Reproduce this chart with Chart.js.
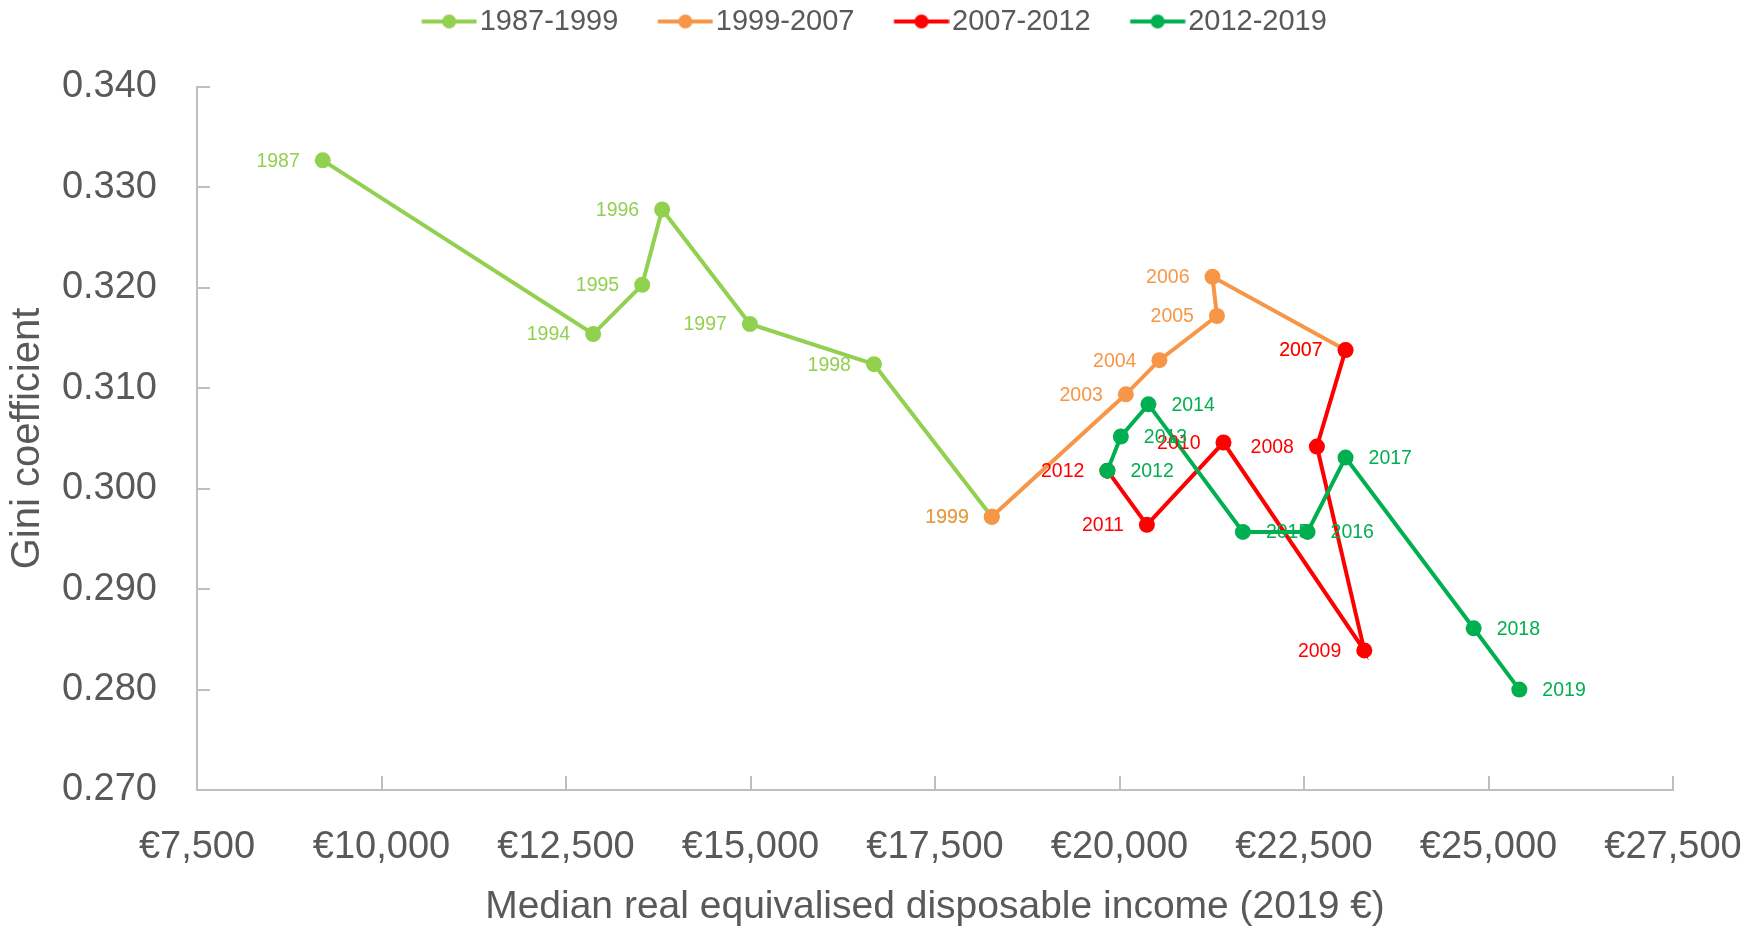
<!DOCTYPE html>
<html>
<head>
<meta charset="utf-8">
<script src="https://cdn.jsdelivr.net/npm/chart.js@4.4.1/dist/chart.umd.min.js"></script>
<style>
  html, body { margin: 0; padding: 0; background: #fff; }
  canvas { display: block; }
</style>
</head>
<body>
<canvas id="giniChart" width="1759" height="927" style="width:1759px;height:927px"></canvas>
<script>
// data
const seriesNames = ["1987-1999", "1999-2007", "2007-2012", "2012-2019"];

const years1 = [1987, 1994, 1995, 1996, 1997, 1998, 1999];
const income1 = [9204, 12868, 13532, 13803, 14992, 16673, 18269];
const gini1 = [0.3327, 0.3154, 0.3203, 0.3278, 0.3164, 0.3124, 0.2972];

const years2 = [1999, 2003, 2004, 2005, 2006, 2007];
const income2 = [18269, 20086, 20541, 21320, 21260, 23063];
const gini2 = [0.2972, 0.3094, 0.3128, 0.3172, 0.3211, 0.3138];

const years3 = [2007, 2008, 2009, 2010, 2011, 2012];
const income3 = [23063, 22675, 23317, 21409, 20371, 19836];
const gini3 = [0.3138, 0.3042, 0.2839, 0.3046, 0.2964, 0.3018];

const years4 = [2012, 2013, 2014, 2015, 2016, 2017, 2018, 2019];
const income4 = [19836, 20018, 20392, 21672, 22548, 23063, 24799, 25418];
const gini4 = [0.3018, 0.3052, 0.3084, 0.2957, 0.2957, 0.3031, 0.2861, 0.2800];

const xTicks = [7500, 10000, 12500, 15000, 17500, 20000, 22500, 25000, 27500];
const yTicks = [0.27, 0.28, 0.29, 0.30, 0.31, 0.32, 0.33, 0.34];

const colors = ["#92D050", "#F79646", "#FF0000", "#00B050"];
const labelSide = ["left", "left", "left", "right"];
const axisColor = "#BFBFBF";
const textColor = "#595959";
const sans = '"Liberation Sans", Arial, sans-serif';

function toPoints(xs, ys) {
  return xs.map((v, i) => ({ x: v, y: ys[i] }));
}

// legend marker: line with a dot, drawn on the right part of a wider image
function legendMarker(color) {
  const c = document.createElement("canvas");
  c.width = 102;
  c.height = 20;
  const g = c.getContext("2d");
  g.strokeStyle = color;
  g.lineWidth = 4;
  g.beginPath();
  g.moveTo(46.5, 10);
  g.lineTo(101.5, 10);
  g.stroke();
  g.fillStyle = color;
  g.beginPath();
  g.arc(74, 10, 7, 0, Math.PI * 2);
  g.fill();
  return c;
}

const allYears = [years1, years2, years3, years4];
const datasets = [
  toPoints(income1, gini1),
  toPoints(income2, gini2),
  toPoints(income3, gini3),
  toPoints(income4, gini4),
].map((pts, i) => ({
  label: seriesNames[i],
  data: pts,
  showLine: true,
  borderColor: colors[i],
  backgroundColor: colors[i],
  borderWidth: 4,
  pointRadius: 8,
  pointHoverRadius: 8,
  pointBorderWidth: 0,
  pointStyle: "circle",
  order: 4 - i, // later periods on top
}));

// small fixes for legend height / position
const legendFix = {
  id: "legendFix",
  beforeInit(chart) {
    const fit = chart.legend.fit;
    chart.legend.fit = function () {
      fit.call(this);
      this.height = 87;
    };
  },
  afterLayout(chart) {
    chart.legend.right += 41;
    chart.legend.top += 2;
  },
};

// tick marks pointing into the plot
const tickMarks = {
  id: "tickMarks",
  beforeDatasetsDraw(chart) {
    const { ctx, chartArea, scales } = chart;
    ctx.save();
    ctx.strokeStyle = axisColor;
    ctx.lineWidth = 2;
    ctx.beginPath();
    scales.x.ticks.forEach((t) => {
      const px = Math.round(scales.x.getPixelForValue(t.value));
      ctx.moveTo(px, chartArea.bottom);
      ctx.lineTo(px, chartArea.bottom - 14);
    });
    scales.y.ticks.forEach((t) => {
      const py = Math.round(scales.y.getPixelForValue(t.value));
      ctx.moveTo(chartArea.left, py);
      ctx.lineTo(chartArea.left + 13, py);
    });
    ctx.stroke();
    ctx.restore();
  },
};

// year labels next to each point
const yearLabels = {
  id: "yearLabels",
  afterDatasetsDraw(chart) {
    const ctx = chart.ctx;
    ctx.save();
    ctx.font = "19.5px " + sans;
    ctx.textBaseline = "middle";
    chart.data.datasets.forEach((ds, i) => {
      const meta = chart.getDatasetMeta(i);
      const right = labelSide[i] === "right";
      ctx.fillStyle = colors[i];
      ctx.textAlign = right ? "left" : "right";
      meta.data.forEach((pt, j) => {
        ctx.fillText(String(allYears[i][j]), pt.x + (right ? 23 : -23), pt.y + 1);
      });
    });
    ctx.restore();
  },
};

Chart.defaults.color = textColor;

new Chart(document.getElementById("giniChart"), {
  type: "scatter",
  data: { datasets: datasets },
  options: {
    responsive: false,
    animation: false,
    devicePixelRatio: 1,
    layout: { padding: { left: 0, right: 86, top: 0, bottom: 0 } },
    scales: {
      x: {
        type: "linear",
        min: xTicks[0],
        max: xTicks[xTicks.length - 1],
        afterBuildTicks(scale) {
          scale.ticks = xTicks.map((v) => ({ value: v }));
        },
        afterFit(scale) {
          scale.height = 137;
          scale.paddingLeft = 0;
          scale.paddingRight = 0;
        },
        grid: { display: false, drawTicks: false },
        border: { color: axisColor, width: 2 },
        ticks: {
          padding: 35,
          color: textColor,
          font: { family: sans, size: 38 },
          maxRotation: 0,
          callback: (v) => "€" + Number(v).toLocaleString("en-US"),
        },
        title: {
          display: true,
          text: "Median real equivalised disposable income (2019 €)",
          color: textColor,
          font: { family: sans, size: 39, lineHeight: 1 },
          padding: { top: 0, bottom: 0 },
        },
      },
      y: {
        min: yTicks[0],
        max: yTicks[yTicks.length - 1],
        afterBuildTicks(scale) {
          scale.ticks = yTicks.map((v) => ({ value: v }));
        },
        afterFit(scale) {
          scale.width = 197;
        },
        grid: { display: false, drawTicks: false },
        border: { color: axisColor, width: 2 },
        ticks: {
          padding: 40,
          color: textColor,
          font: { family: sans, size: 38 },
          callback: (v) => Number(v).toFixed(3),
        },
        title: {
          display: true,
          text: "Gini coefficient",
          color: textColor,
          font: { family: sans, size: 40, lineHeight: 1.2 },
          padding: { top: 4, bottom: 0 },
        },
      },
    },
    plugins: {
      legend: {
        display: true,
        position: "top",
        labels: {
          usePointStyle: true,
          pointStyleWidth: 78,
          padding: 5,
          color: textColor,
          font: { family: sans, size: 29 },
          generateLabels(chart) {
            return chart.data.datasets.map((ds, i) => ({
              text: ds.label,
              fillStyle: colors[i],
              strokeStyle: colors[i],
              fontColor: textColor,
              lineWidth: 0,
              pointStyle: legendMarker(colors[i]),
              hidden: false,
              datasetIndex: i,
            }));
          },
        },
      },
      tooltip: { enabled: false },
    },
  },
  plugins: [legendFix, tickMarks, yearLabels],
});
</script>
</body>
</html>
